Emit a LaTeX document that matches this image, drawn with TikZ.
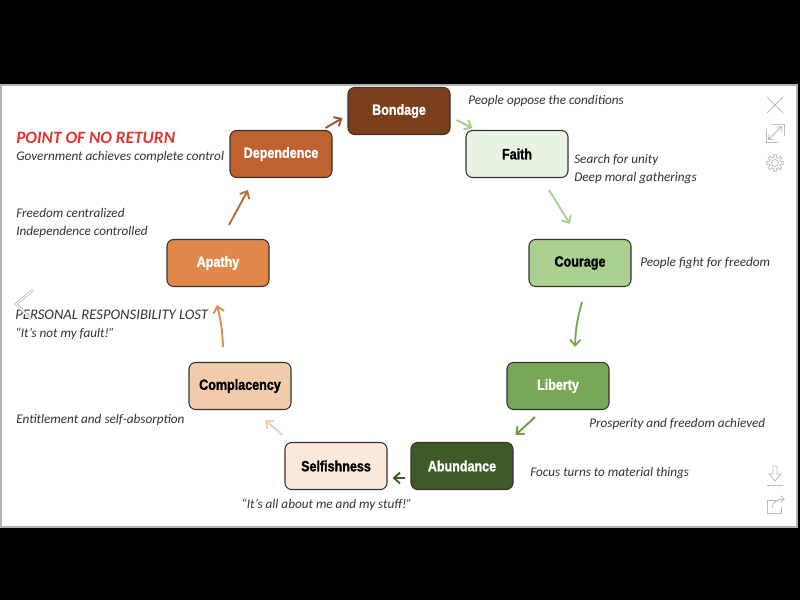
\documentclass[tikz,border=0pt]{standalone}
\usepackage{fontspec}
\setmainfont{Carlito}
\newfontfamily\boxfont{Liberation Sans Bold}[FakeStretch=0.84, FakeBold=1.3]
\usetikzlibrary{arrows.meta,calc}
\definecolor{cBond}{HTML}{7A3E1C}
\definecolor{cDep}{HTML}{BF6230}
\definecolor{cApa}{HTML}{E0874A}
\definecolor{cCom}{HTML}{F2CBAA}
\definecolor{cSel}{HTML}{FCE9DC}
\definecolor{cAbu}{HTML}{3E5A26}
\definecolor{cLib}{HTML}{78A855}
\definecolor{cCou}{HTML}{AAD08F}
\definecolor{cFai}{HTML}{E9F3E1}
\definecolor{aBond}{HTML}{9A5530}
\definecolor{aDep}{HTML}{B86A35}
\definecolor{aApa}{HTML}{E08A50}
\definecolor{aCom}{HTML}{F3CDB0}
\definecolor{aGreenL}{HTML}{A8D08D}
\definecolor{aGreen}{HTML}{74AA52}
\definecolor{aGreenD}{HTML}{6A9E48}
\definecolor{txt}{HTML}{333333}
\definecolor{redhead}{HTML}{E3342F}
\definecolor{iconc}{HTML}{BBBBBB}
\tikzset{
  stage/.style={draw=black!80, line width=0.8pt, rounded corners=5pt,
    minimum width=76.5pt, minimum height=35.25pt, inner sep=0pt,
    font=\boxfont\fontsize{11.2pt}{12pt}\selectfont},
  note/.style={anchor=base west, inner sep=0pt, text=txt, align=left,
    font=\itshape\fontsize{9.9pt}{13.5pt}\selectfont},
  arr/.style={line width=1.4pt, -{Straight Barb[length=4.5pt,width=8pt]}},
  icon/.style={draw=iconc, line width=0.6pt}
}
\begin{document}
\begin{tikzpicture}[x=0.75pt,y=-0.75pt]
\useasboundingbox (0,0) rectangle (800,600);
\fill[black] (0,0) rectangle (800,600);
\filldraw[fill=white,draw=gray!60,line width=0.8pt] (1,85) rectangle (797,527);

% stages
\node[stage, fill=cBond, text=white] (bond) at (399,111) {Bondage};
\node[stage, fill=cFai, text=black] (faith) at (517,154) {Faith};
\node[stage, fill=cCou, text=black] (cour) at (580,263) {Courage};
\node[stage, fill=cLib, text=white] (lib) at (558,386) {Liberty};
\node[stage, fill=cAbu, text=white] (abu) at (462,466) {Abundance};
\node[stage, fill=cSel, text=black] (self) at (336,466) {Selfishness};
\node[stage, fill=cCom, text=black] (comp) at (240,386) {Complacency};
\node[stage, fill=cApa, text=white] (apa) at (218,263) {Apathy};
\node[stage, fill=cDep, text=white] (dep) at (281,154) {Dependence};

% connectors
\draw[arr, aBond] ([shift={(-7,-2)}]dep.north east) -- ([shift={(-5,7)}]bond.west);
\draw[arr, aGreenL] ([shift={(6,9)}]bond.east) -- ([shift={(7,-2)}]faith.north west);
\draw[arr, aGreenL] ([shift={(32,12)}]faith.south) -- ([shift={(-10,-15)}]cour.north);
\draw[arr, aGreen] ([shift={(2,15)}]cour.south) to[bend right=7] ([shift={(17,-15)}]lib.north);
\draw[arr, aGreenD] ([shift={(-23,7)}]lib.south) -- ([shift={(2,-7)}]abu.north east);
\draw[arr, cAbu] ([shift={(-5,12)}]abu.west) -- ([shift={(5,12)}]self.east);
\draw[arr, aCom] ([shift={(-2,-7)}]self.north west) -- ([shift={(25,10)}]comp.south);
\draw[arr, aApa] ([shift={(-17,-15)}]comp.north) to[bend right=6] ([shift={(-1,18)}]apa.south);
\draw[arr, aDep] ([shift={(11,-14)}]apa.north) -- ([shift={(-33,12)}]dep.south);

% notes
\node[anchor=base west, inner sep=0pt, text=redhead, font=\bfseries\itshape\fontsize{13pt}{14pt}\selectfont] (pnr) at (16,143) {POINT OF NO RETURN};
\node[note] (n1) at (16,160) {Government achieves complete control};
\node[note] (n2) at (16,235) {Freedom centralized\\Independence controlled};
\node[note] (n3) at (15,337) {{\fontsize{11pt}{13.5pt}\selectfont PERSONAL RESPONSIBILITY LOST}\\“It’s not my fault!”};
\node[note] (n4) at (16,423) {Entitlement and self-absorption};
\node[note] (n5) at (241,508) {“It’s all about me and my stuff!”};
\node[note] (n6) at (530,476) {Focus turns to material things};
\node[note] (n7) at (589,427) {Prosperity and freedom achieved};
\node[note] (n8) at (640,266) {People fight for freedom};
\node[note] (n9) at (574,181) {Search for unity\\Deep moral gatherings};
\node[note] (n10) at (468,104) {People oppose the conditions};

% viewer icons
\draw[icon] (767,97) -- (783,113) (767,113) -- (783,97);
\draw[icon, {Straight Barb[length=3pt,width=5pt]}-{Straight Barb[length=3pt,width=5pt]}] (768,140) -- (782,126);
\draw[icon] (766,130) -- (766,142) -- (778,142) (772,124) -- (784,124) -- (784,136);
\draw[icon] (775,163) circle (3.5);
\draw[icon] plot[domain=0:360, samples=145, variable=\t]
  ({775+(7+1.3*sign(cos(8*\t)))*cos(\t)}, {163+(7+1.3*sign(cos(8*\t)))*sin(\t)}) -- cycle;
\draw[icon] (773,466) -- (777,466) -- (777,474) -- (781,474) -- (775,481) -- (769,474) -- (773,474) -- cycle;
\draw[icon] (767,485) -- (783,485);
\draw[icon] (779,500) -- (767,500) -- (767,513) -- (781,513) -- (781,507);
\draw[icon, -{Straight Barb[length=3pt,width=5pt]}] (772,508) .. controls (773,501) and (778,499) .. (785,499);
\draw[icon, double=white, double distance=0.8pt] (33,290) -- (16,304) -- (31,319);
\end{tikzpicture}
\end{document}
